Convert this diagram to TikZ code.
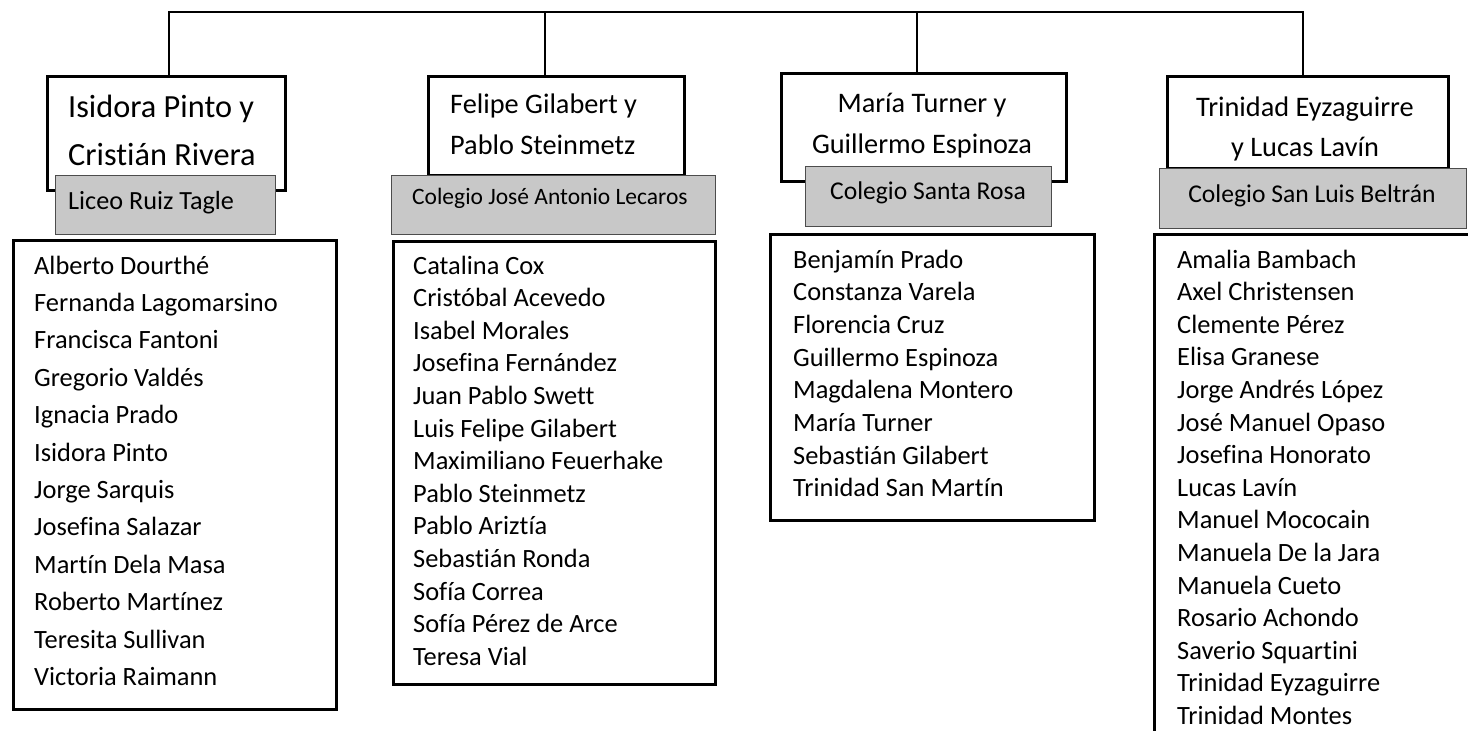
\documentclass[tikz,border=0pt]{standalone}
\usepackage{fontspec}
\setmainfont{Carlito}[Ligatures=NoCommon]
\usepackage{tikz}
\usetikzlibrary{positioning}
\definecolor{grisColegio}{RGB}{200,200,200}
\tikzset{
  pareja/.style={draw, line width=3pt, fill=white, anchor=north west, inner sep=0pt},
  colegio/.style={draw=black!70, line width=1.2pt, fill=grisColegio, anchor=north west, inner sep=0pt},
  lista/.style={draw, line width=3pt, anchor=north west, inner sep=0pt},
  conector/.style={line width=1.6pt},
  nombre/.style={anchor=base west, inner sep=0pt, font=\fontsize{26.4pt}{32pt}\selectfont},
  titulo/.style={inner sep=0pt, font=\fontsize{28.3pt}{34pt}\selectfont},
  rotulo/.style={inner sep=0pt, font=\fontsize{25.6pt}{30pt}\selectfont}
}

\begin{document}
\begin{tikzpicture}[x=1pt, y=-1pt]
\clip (0,0) rectangle (1468,731);

% Lineas de arriba
\coordinate (raiz1) at (169,12);
\coordinate (raiz2) at (545,12);
\coordinate (raiz3) at (917,12);
\coordinate (raiz4) at (1303,12);

% Parejas
\node[pareja, minimum width=238pt, minimum height=114pt] (pareja1) at (46,75) {};
\node[pareja, minimum width=256pt, minimum height=99pt] (pareja2) at (427,75) {};
\node[pareja, minimum width=285pt, minimum height=108pt] (pareja3) at (780,72) {};
\node[pareja, minimum width=281pt, minimum height=92pt] (pareja4) at (1166,75) {};

\draw[conector] (raiz1 |- pareja1.north) -- (raiz1) -- (raiz4) -- (raiz4 |- pareja4.north);
\draw[conector] (raiz2) -- (raiz2 |- pareja2.north);
\draw[conector] (raiz3) -- (raiz3 |- pareja3.north);

% Colegios
\node[colegio, minimum width=220pt, minimum height=59pt] (colegio1) at (55,175) {};
\node[colegio, minimum width=324pt, minimum height=59pt] (colegio2) at (391,175) {};
\node[colegio, minimum width=246pt, minimum height=60pt] (colegio3) at (805,166) {};
\node[colegio, minimum width=307pt, minimum height=60pt] (colegio4) at (1159,168) {};

% Listas
\node[lista, minimum width=323pt, minimum height=469pt] (lista1) at (12,239) {};
\node[lista, minimum width=322pt, minimum height=443pt] (lista2) at (392,240) {};
\node[lista, minimum width=324pt, minimum height=286pt] (lista3) at (769,233) {};
\node[lista, minimum width=340pt, minimum height=530pt] (lista4) at (1153,233) {};

% Textos de las parejas
\node[titulo, anchor=base west, font=\fontsize{32.3pt}{38pt}\selectfont] (titulo1a) at (68,117) {Isidora Pinto y};
\node[titulo, anchor=base west, font=\fontsize{32.3pt}{38pt}\selectfont] (titulo1b) at (68,165) {Cristián Rivera};
\node[titulo, anchor=base west] (titulo2a) at (450,113) {Felipe Gilabert y};
\node[titulo, anchor=base west] (titulo2b) at (450,154) {Pablo Steinmetz};
\node[titulo, anchor=base] (titulo3a) at (922,112) {María Turner y};
\node[titulo, anchor=base] (titulo3b) at (922,153) {Guillermo Espinoza};
\node[titulo, anchor=base] (titulo4a) at (1305,116) {Trinidad Eyzaguirre};
\node[titulo, anchor=base] (titulo4b) at (1305,156) {y Lucas Lavín};

\node[rotulo, anchor=base west, font=\fontsize{26.2pt}{30pt}\selectfont] (rotulo1) at (68,209) {Liceo Ruiz Tagle};
\node[rotulo, anchor=base west, font=\fontsize{23.5pt}{28pt}\selectfont] (rotulo2) at (412,204) {Colegio José Antonio Lecaros};
\node[rotulo, anchor=base] (rotulo3) at (928,199) {Colegio Santa Rosa};
\node[rotulo, anchor=base] (rotulo4) at (1312,202) {Colegio San Luis Beltrán};

% Nombres
\foreach \n [count=\i from 0] in {Alberto Dourthé, Fernanda Lagomarsino, Francisca Fantoni,
    Gregorio Valdés, Ignacia Prado, Isidora Pinto, Jorge Sarquis, Josefina Salazar,
    Martín Dela Masa, Roberto Martínez, Teresita Sullivan, Victoria Raimann}
  \node[nombre] (nombre1-\i) at (34,{274+37.4*\i}) {\n};

\foreach \n [count=\i from 0] in {Catalina Cox, Cristóbal Acevedo, Isabel Morales,
    Josefina Fernández, Juan Pablo Swett, Luis Felipe Gilabert, Maximiliano Feuerhake,
    Pablo Steinmetz, Pablo Ariztía, Sebastián Ronda, Sofía Correa, Sofía Pérez de Arce,
    Teresa Vial}
  \node[nombre] (nombre2-\i) at (413,{274+32.6*\i}) {\n};

\foreach \n [count=\i from 0] in {Benjamín Prado, Constanza Varela, Florencia Cruz,
    Guillermo Espinoza, Magdalena Montero, María Turner, Sebastián Gilabert,
    Trinidad San Martín}
  \node[nombre] (nombre3-\i) at (793,{268+32.7*\i}) {\n};

\foreach \n [count=\i from 0] in {Amalia Bambach, Axel Christensen, Clemente Pérez,
    Elisa Granese, Jorge Andrés López, José Manuel Opaso, Josefina Honorato,
    Lucas Lavín, Manuel Mococain, Manuela De la Jara, Manuela Cueto, Rosario Achondo,
    Saverio Squartini, Trinidad Eyzaguirre, Trinidad Montes}
  \node[nombre] (nombre4-\i) at (1177,{268+32.6*\i}) {\n};
\end{tikzpicture}
\end{document}
